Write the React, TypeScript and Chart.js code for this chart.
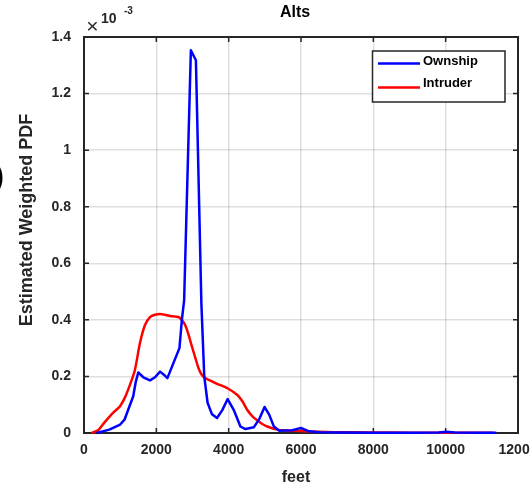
import React, { useEffect, useRef } from "react";
import { Chart, registerables } from "chart.js";

Chart.register(...registerables);

// ---- data (y in units of 1e-3) ----
const ownshipX = [350, 700, 1000, 1120, 1222, 1361, 1430, 1500, 1639, 1825, 1964, 2103, 2200, 2306, 2472, 2639, 2706, 2769, 2955, 3094, 3245, 3325, 3417, 3539, 3678, 3820, 3972, 4139, 4325, 4464, 4694, 4850, 4992, 5120, 5250, 5400, 5760, 6000, 6220, 6500, 7000, 8000, 9000, 9800, 10020, 10250, 11000, 11400];
const ownshipY = [0, 0.012, 0.03, 0.047, 0.082, 0.13, 0.18, 0.214, 0.197, 0.186, 0.197, 0.217, 0.207, 0.194, 0.247, 0.3, 0.4, 0.47, 1.353, 1.318, 0.46, 0.2, 0.107, 0.066, 0.053, 0.08, 0.12, 0.082, 0.023, 0.014, 0.02, 0.05, 0.092, 0.065, 0.023, 0.008, 0.01, 0.018, 0.006, 0.003, 0.002, 0.001, 0.001, 0.002, 0.004, 0.002, 0.001, 0.001];

const intruderX = [200, 390, 550, 714, 850, 992, 1130, 1270, 1408, 1547, 1686, 1825, 1960, 2103, 2240, 2380, 2611, 2700, 2797, 2890, 2983, 3080, 3167, 3260, 3353, 3500, 3678, 3956, 4233, 4380, 4511, 4650, 4789, 4930, 5067, 5344, 5600, 5970, 6500, 6900, 8000, 9000, 10000, 11317];
const intruderY = [0, 0.01, 0.035, 0.059, 0.077, 0.094, 0.125, 0.17, 0.223, 0.318, 0.382, 0.41, 0.418, 0.421, 0.418, 0.414, 0.41, 0.4, 0.382, 0.348, 0.306, 0.265, 0.229, 0.205, 0.194, 0.185, 0.174, 0.159, 0.135, 0.112, 0.082, 0.06, 0.045, 0.032, 0.023, 0.012, 0.009, 0.007, 0.004, 0.003, 0.002, 0.001, 0.001, 0.001];

const seriesNames = ["Ownship", "Intruder"];
const seriesColors = ["#0000ff", "#ff0000"];
const xTickLabels = ["0", "2000", "4000", "6000", "8000", "10000", "12000"];
const yTickLabels = ["0", "0.2", "0.4", "0.6", "0.8", "1", "1.2", "1.4"];
const chartTitle = "Alts";
const xTitle = "feet";
const yTitle = "Estimated Weighted PDF";
const exponentBase = "10";
const exponentPower = "-3";

const FONT = "'Liberation Sans', Arial, Helvetica, sans-serif";
const DARK = "#262626";

const decorPlugin = {
  id: "matlabDecor",
  beforeDatasetsDraw(chart: any) {
    const { ctx, chartArea: a, scales } = chart;
    ctx.save();
    ctx.strokeStyle = DARK;
    ctx.lineWidth = 2;
    ctx.strokeRect(a.left, a.top, a.right - a.left, a.bottom - a.top);
    ctx.lineWidth = 1.5;
    const tl = 5;
    ctx.beginPath();
    scales.x.ticks.forEach((t: any) => {
      const p = scales.x.getPixelForValue(t.value);
      ctx.moveTo(p, a.bottom); ctx.lineTo(p, a.bottom - tl);
      ctx.moveTo(p, a.top); ctx.lineTo(p, a.top + tl);
    });
    scales.y.ticks.forEach((t: any) => {
      const p = scales.y.getPixelForValue(t.value);
      ctx.moveTo(a.left, p); ctx.lineTo(a.left + tl, p);
      ctx.moveTo(a.right, p); ctx.lineTo(a.right - tl, p);
    });
    ctx.stroke();
    ctx.restore();
  },
  afterDraw(chart: any) {
    const { ctx } = chart;
    ctx.save();
    ctx.fillStyle = "#000";
    ctx.textBaseline = "middle";
    ctx.textAlign = "center";
    ctx.font = `bold 16px ${FONT}`;
    ctx.fillText(chartTitle, 295, 13);
    ctx.fillStyle = DARK;
    ctx.fillText(xTitle, 296, 478);
    ctx.save();
    ctx.translate(27.5, 220);
    ctx.rotate(-Math.PI / 2);
    ctx.font = `bold 18px ${FONT}`;
    ctx.fillText(yTitle, 0, 0);
    ctx.restore();
    ctx.font = `21px ${FONT}`;
    ctx.fillText("\u00d7", 92.5, 27.5);
    ctx.textAlign = "left";
    ctx.font = `bold 14px ${FONT}`;
    ctx.fillText(exponentBase, 101, 19);
    ctx.font = `bold 10px ${FONT}`;
    ctx.fillText(exponentPower, 124, 11);
    ctx.fillStyle = "#000";
    ctx.textAlign = "right";
    ctx.font = `bold 30px ${FONT}`;
    ctx.fillText(")", 4, 178);
    // legend
    const lx = 372.5, ly = 51, lw = 132.5, lh = 51;
    ctx.fillStyle = "#fff";
    ctx.fillRect(lx, ly, lw, lh);
    ctx.strokeStyle = DARK;
    ctx.lineWidth = 1.5;
    ctx.strokeRect(lx, ly, lw, lh);
    const rows = [
      { lineY: 63.5, textY: 61.5 },
      { lineY: 87.5, textY: 83.5 },
    ];
    chart.data.datasets.forEach((ds: any, i: number) => {
      const r = rows[i];
      ctx.strokeStyle = ds.borderColor;
      ctx.lineWidth = 2.5;
      ctx.beginPath();
      ctx.moveTo(378, r.lineY);
      ctx.lineTo(420, r.lineY);
      ctx.stroke();
      ctx.fillStyle = "#000";
      ctx.textAlign = "left";
      ctx.font = `bold 13px ${FONT}`;
      ctx.fillText(ds.label, 423, r.textY);
    });
    ctx.restore();
  },
};

export default function App() {
  const ref = useRef<HTMLCanvasElement | null>(null);
  useEffect(() => {
    if (!ref.current) return;
    const mk = (xs: number[], ys: number[]) => xs.map((x, i) => ({ x, y: ys[i] }));
    const chart = new Chart(ref.current, {
      type: "line",
      data: {
        datasets: [
          {
            label: seriesNames[0],
            data: mk(ownshipX, ownshipY),
            borderColor: seriesColors[0],
            borderWidth: 2.5,
            pointRadius: 0,
            tension: 0,
            borderJoinStyle: "round",
            fill: false,
            clip: false as any,
          },
          {
            label: seriesNames[1],
            data: mk(intruderX, intruderY),
            borderColor: seriesColors[1],
            borderWidth: 2.5,
            pointRadius: 0,
            tension: 0.2,
            borderJoinStyle: "round",
            fill: false,
            clip: false as any,
          },
        ],
      },
      options: {
        responsive: false,
        animation: false,
        devicePixelRatio: 1,
        layout: { padding: { top: 37, right: 12, bottom: 0, left: 0 } },
        plugins: {
          legend: { display: false },
          title: { display: false },
          tooltip: { enabled: false },
        },
        scales: {
          x: {
            type: "linear",
            min: 0,
            max: 12000,
            border: { display: false },
            grid: { color: "rgba(38,38,38,0.15)", lineWidth: 1.5, drawTicks: false },
            ticks: {
              stepSize: 2000,
              autoSkip: false,
              maxRotation: 0,
              padding: 9,
              color: DARK,
              font: { family: FONT, size: 14, weight: "bold" },
              callback: (v: any) => xTickLabels[Math.round(Number(v) / 2000)] ?? "",
            },
            afterFit: (s: any) => {
              s.height = 54;
              s.paddingLeft = 0;
              s.paddingRight = 0;
            },
          },
          y: {
            min: 0,
            max: 1.4,
            border: { display: false },
            grid: { color: "rgba(38,38,38,0.15)", lineWidth: 1.5, drawTicks: false },
            ticks: {
              stepSize: 0.2,
              padding: 13,
              color: DARK,
              font: { family: FONT, size: 14, weight: "bold" },
              callback: (v: any) => yTickLabels[Math.round(Number(v) / 0.2)] ?? "",
            },
            afterFit: (s: any) => {
              s.width = 84;
              s.paddingTop = 0;
              s.paddingBottom = 0;
            },
          },
        },
      },
      plugins: [decorPlugin],
    });
    return () => chart.destroy();
  }, []);
  return (
    <div style={{ position: "fixed", left: 0, top: 0, width: 530, height: 487, background: "#fff" }}>
      <canvas ref={ref} width={530} height={487} style={{ width: 530, height: 487, display: "block" }} />
    </div>
  );
}
